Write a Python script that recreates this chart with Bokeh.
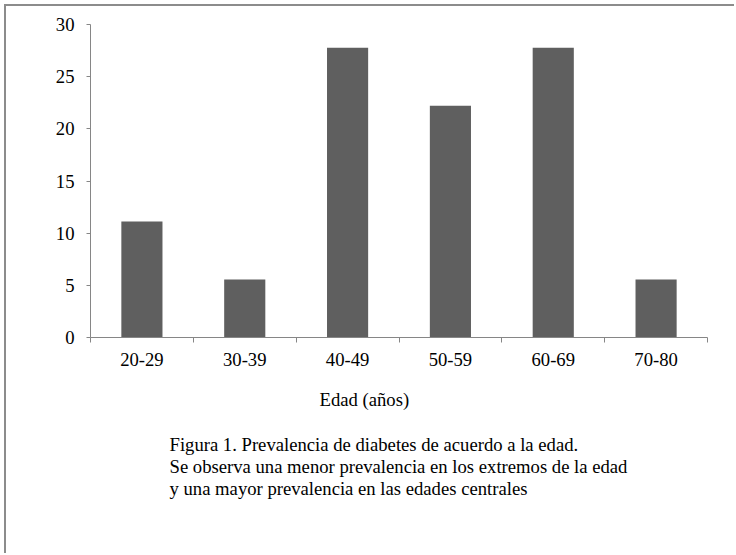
from bokeh.plotting import figure
from bokeh.models import FixedTicker, Range1d, Title
from bokeh.embed import file_html
from bokeh.resources import INLINE

# Data
categories = ["20-29", "30-39", "40-49", "50-59", "60-69", "70-80"]
prevalence = [11.11, 5.56, 27.78, 22.22, 27.78, 5.56]
y_ticks = [0, 5, 10, 15, 20, 25, 30]
x_label = "Edad (años)"
caption = [
    "Figura 1. Prevalencia de diabetes de acuerdo a la edad.",
    "Se observa una menor prevalencia en los extremos de la edad",
    "y una mayor prevalencia en las edades centrales",
]

FONT = "Liberation Serif"
FS = "18.67px"
AXIS_COLOR = "#868686"
W, H = 730, 549

p = figure(width=W, height=H, output_backend="svg", toolbar_location=None,
           x_range=Range1d(0, len(categories)), y_range=Range1d(0, 30),
           min_border_left=84, min_border_right=29, min_border_top=18,
           min_border_bottom=218)
p.styles = {"margin-left": "4px", "margin-top": "4px",
            "border-left": "2px solid #8c8c8c", "border-top": "2px solid #8c8c8c"}

xs = [i + 0.5 for i in range(len(categories))]
p.vbar(x=xs, top=prevalence, width=0.4, bottom=0,
       fill_color="#5f5f5f", line_color=None)

p.grid.visible = False
p.outline_line_color = None
p.background_fill_color = "white"
p.border_fill_color = "white"

# X axis: labels at centers, ticks between categories
xt = FixedTicker(ticks=xs, minor_ticks=list(range(len(categories) + 1)))
p.xaxis.ticker = xt
p.xaxis.major_label_overrides = {x: c for x, c in zip(xs, categories)}
p.xaxis.major_tick_out = 0
p.xaxis.major_tick_in = 0
p.xaxis.minor_tick_out = 5
p.xaxis.minor_tick_in = 0
p.xaxis.minor_tick_line_color = AXIS_COLOR
p.xaxis.axis_line_color = AXIS_COLOR
p.xaxis.major_label_standoff = 10
p.xaxis.major_label_text_font = FONT
p.xaxis.major_label_text_font_size = FS
p.xaxis.major_label_text_color = "black"

p.yaxis.ticker = FixedTicker(ticks=y_ticks, minor_ticks=[])
p.yaxis.major_tick_out = 4
p.yaxis.major_tick_in = 0
p.yaxis.major_tick_line_color = AXIS_COLOR
p.yaxis.axis_line_color = AXIS_COLOR
p.yaxis.major_label_standoff = 12
p.yaxis.major_label_text_font = FONT
p.yaxis.major_label_text_font_size = FS
p.yaxis.major_label_text_color = "black"

p.add_layout(Title(text=x_label, align="left", offset=229, standoff=37,
                   text_font=FONT, text_font_size=FS, text_font_style="normal",
                   text_color="black"), "below")
p.add_layout(Title(text="\n".join(caption), align="left", offset=79, standoff=7,
                   text_font=FONT, text_font_size=FS, text_font_style="normal",
                   text_line_height=1.05, text_color="black"), "below")

open("out.html", "w").write(file_html(p, INLINE))
